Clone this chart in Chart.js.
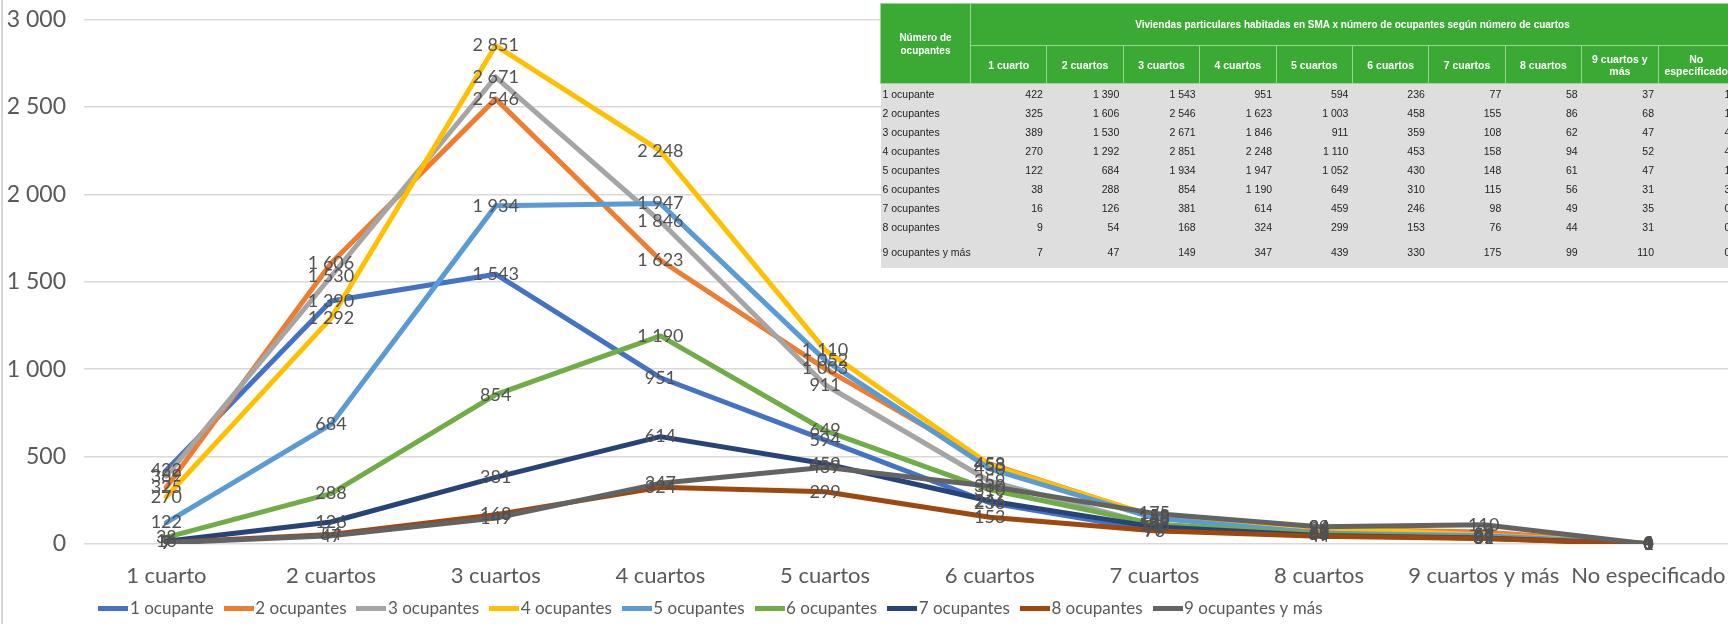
<!DOCTYPE html>
<html>
<head>
<meta charset="utf-8">
<script src="https://cdn.jsdelivr.net/npm/chart.js@4.4.1/dist/chart.umd.min.js"></script>
<style>
html,body{margin:0;padding:0;background:#fff;}
#wrap{position:relative;width:1728px;height:624px;overflow:hidden;background:#fff;}
#c{position:absolute;left:0;top:0;}
#edge{position:absolute;left:1px;top:0;width:2px;height:624px;background:#d6d6d6;}
#tbl{position:absolute;left:880px;top:3px;border-collapse:collapse;table-layout:fixed;width:854px;
  font-family:"Liberation Sans",Arial,sans-serif;font-size:10.5px;color:#1e1e1e;}
#tbl th{background:#3aaa35;color:#fff;font-weight:bold;border:1px solid #9ad596;padding:0 2px;text-align:center;line-height:12px;}
#tbl th.corner{font-size:11px;line-height:13px;}
#tbl tr.r1 th{height:41px;font-size:10px;}
#tbl tr.r2 th{height:37px;font-size:10.5px;}
#tbl td{background:#dedede;height:19px;padding:0 4px 0 2px;text-align:right;white-space:nowrap;line-height:12px;}
#tbl td.name{text-align:left;}
#tbl tr.last td{height:32px;}
</style>
</head>
<body>
<div id="wrap">
  <canvas id="c" width="1745" height="627"></canvas>
  <div id="edge"></div>
  <table id="tbl"></table>
</div>
<script>
// ---- data ----
const categories = ['1 cuarto','2 cuartos','3 cuartos','4 cuartos','5 cuartos','6 cuartos','7 cuartos','8 cuartos','9 cuartos y más','No especificado'];
const seriesNames = ['1 ocupante','2 ocupantes','3 ocupantes','4 ocupantes','5 ocupantes','6 ocupantes','7 ocupantes','8 ocupantes','9 ocupantes y más'];
const ocup1 = [422, 1390, 1543, 951, 594, 236, 77, 58, 37, 1];
const ocup2 = [325, 1606, 2546, 1623, 1003, 458, 155, 86, 68, 1];
const ocup3 = [389, 1530, 2671, 1846, 911, 359, 108, 62, 47, 4];
const ocup4 = [270, 1292, 2851, 2248, 1110, 453, 158, 94, 52, 4];
const ocup5 = [122, 684, 1934, 1947, 1052, 430, 148, 61, 47, 1];
const ocup6 = [38, 288, 854, 1190, 649, 310, 115, 56, 31, 3];
const ocup7 = [16, 126, 381, 614, 459, 246, 98, 49, 35, 0];
const ocup8 = [9, 54, 168, 324, 299, 153, 76, 44, 31, 0];
const ocup9 = [7, 47, 149, 347, 439, 330, 175, 99, 110, 0];
const yTicks = [0, 500, 1000, 1500, 2000, 2500, 3000];
const tableTitle = 'Viviendas particulares habitadas en SMA x número de ocupantes según número de cuartos';
const tableCorner = 'Número de ocupantes';

const seriesValues = [ocup1, ocup2, ocup3, ocup4, ocup5, ocup6, ocup7, ocup8, ocup9];
const colors = ['#4472C4','#ED7D31','#A5A5A5','#FFC000','#5B9BD5','#70AD47','#264478','#9E480E','#636363'];

const fmt = v => String(v).replace(/\B(?=(\d{3})+(?!\d))/g, ' ');

// ---- table ----
(function buildTable(){
  const t = document.getElementById('tbl');
  let html = '<colgroup><col style="width:90px">' + categories.map(()=>'<col style="width:76.4px">').join('') + '</colgroup>';
  html += '<tr class="r1"><th class="corner" rowspan="2">' + tableCorner.replace(' de ', ' de<br>') + '</th><th colspan="' + categories.length + '">' + tableTitle + '</th></tr>';
  html += '<tr class="r2">' + categories.map(c=>'<th>' + c + '</th>').join('') + '</tr>';
  seriesNames.forEach((n,i)=>{
    html += '<tr' + (i === seriesNames.length-1 ? ' class="last"' : '') + '><td class="name">' + n + '</td>' +
      seriesValues[i].map(v=>'<td>' + fmt(v) + '</td>').join('') + '</tr>';
  });
  t.innerHTML = html;
})();

// legend line swatches (Excel-style flat line)
const swatch = (color) => {
  const cv = document.createElement('canvas');
  cv.width = 30; cv.height = 5;
  const g = cv.getContext('2d');
  g.fillStyle = color;
  g.fillRect(0, 0, 30, 5);
  return cv;
};

// ---- plugins ----
const valueLabels = {
  id: 'valueLabels',
  afterDatasetsDraw(chart){
    const ctx = chart.ctx;
    ctx.save();
    ctx.font = '18px Lato';
    ctx.fillStyle = '#525252';
    ctx.textAlign = 'center';
    ctx.textBaseline = 'middle';
    chart.data.datasets.forEach((ds, i) => {
      const meta = chart.getDatasetMeta(i);
      meta.data.forEach((el, j) => {
        ctx.fillText(fmt(ds.data[j]), el.x, el.y);
      });
    });
    ctx.restore();
  }
};
const legendShift = {
  id: 'legendShift',
  afterLayout(chart){
    const lg = chart.legend;
    if (lg) {
      const center = 714;
      lg.left = 0;
      lg.right = center * 2;
    }
    // let category labels extend below the (compact) axis box without clipping
    if (chart.scales.x) chart.scales.x.bottom = chart.height;
  }
};

const font = (size) => ({family: 'Lato', size: size});

new Chart(document.getElementById('c'), {
  type: 'line',
  data: {
    labels: categories,
    datasets: seriesValues.map((d, i) => ({
      label: seriesNames[i],
      data: d,
      borderColor: colors[i],
      backgroundColor: colors[i],
      borderWidth: 5,
      pointRadius: 0,
      pointStyle: swatch(colors[i]),
      tension: 0,
      borderJoinStyle: 'round',
      borderCapStyle: 'round',
      order: seriesValues.length - 1 - i
    }))
  },
  options: {
    responsive: false,
    animation: false,
    devicePixelRatio: 1,
    layout: {padding: {top: 19.5, right: 9, left: 0, bottom: 0}},
    plugins: {
      tooltip: {enabled: false},
      legend: {
        position: 'bottom',
        labels: {
          usePointStyle: true,
          pointStyleWidth: 16,
          boxWidth: 16,
          font: font(17),
          color: '#595959',
          padding: 17,
          sort: (a, b) => a.datasetIndex - b.datasetIndex
        }
      }
    },
    scales: {
      x: {
        offset: true,
        grid: {display: false, drawTicks: false},
        border: {display: false},
        ticks: {font: font(22), color: '#595959', padding: 19, maxRotation: 0, autoSkip: false},
        afterFit: s => { s.height = 39; }
      },
      y: {
        min: yTicks[0],
        max: yTicks[yTicks.length - 1],
        afterBuildTicks: s => { s.ticks = yTicks.map(v => ({value: v})); },
        ticks: {font: font(23), color: '#595959', padding: 18, callback: v => fmt(v)},
        grid: {color: '#d9d9d9', lineWidth: 1.5, drawTicks: false},
        border: {display: false},
        afterFit: s => { s.width = 84; s.paddingTop = 0; s.paddingBottom = 0; }
      }
    }
  },
  plugins: [valueLabels, legendShift]
});
</script>
</body>
</html>
